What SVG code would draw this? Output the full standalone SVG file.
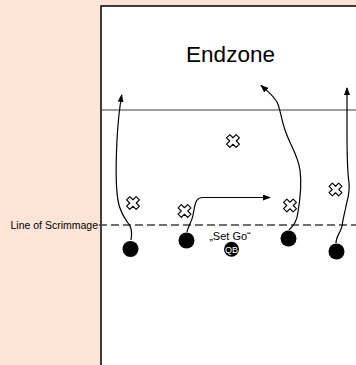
<svg xmlns="http://www.w3.org/2000/svg" width="356" height="365" viewBox="0 0 356 365">
<style>
.route{fill:none;stroke:#000;stroke-width:1.2;marker-end:url(#arr)}
.player{fill:#000}
.def{fill:#fff;stroke:#000;stroke-width:1.1}
.lbl{font-family:"Liberation Sans",Arial,sans-serif;fill:#000}
</style>
<defs>
<marker id="arr" viewBox="0 0 8 6" markerWidth="8" markerHeight="6" refX="7" refY="3" orient="auto" markerUnits="userSpaceOnUse">
<path d="M0,0 L8,3 L0,6 z" fill="#000"/>
</marker>
<polygon id="x" points="-2.3,-6.8 2.3,-6.8 2.3,-2.3 6.8,-2.3 6.8,2.3 2.3,2.3 2.3,6.8 -2.3,6.8 -2.3,2.3 -6.8,2.3 -6.8,-2.3 -2.3,-2.3" transform="rotate(45)" stroke-linejoin="round"/>
</defs>
<rect x="0" y="0" width="356" height="365" fill="#FCE4D6"/>
<g id="field">
<rect x="101" y="6" width="270" height="370" fill="#fff" stroke="#000" stroke-width="1.5"/>
<line x1="101" y1="110" x2="356" y2="110" stroke="#404040" stroke-width="1.2"/>
<line x1="99" y1="225" x2="356" y2="225" stroke="#404040" stroke-width="1.5" stroke-dasharray="8,4"/>
<text class="lbl" x="186" y="62" font-size="22.5" textLength="89">Endzone</text>
<text class="lbl" x="98" y="228.5" font-size="10.5" text-anchor="end">Line of Scrimmage</text>
</g>
<g id="connectors">
<path class="route" d="M131,240 C132,234 132,230 130,226 C127,221 122,216 119,205 C115,190 116,160 117,140 C118,120 120,105 121.7,95"/>
<path class="route" d="M187,232 C188,226 192,222 193,215 C195,205 195,197.5 203,197.5 L270,197.5"/>
<path class="route" d="M289,230 C293,226 297,222 298,212 C300,200 302,185 300,170 C298,155 290,145 285,130 C281,118 280,108 277,102 C272,94 266,90 261,85.5"/>
<path class="route" d="M336,243 C336,236 341,232 342,226 C343,218 345,212 346,206 C348,198 350,192 349,183 C347,170 347,150 347,130 L347,88"/>
</g>
<g id="d1"><use href="#x" class="def" x="133" y="203"/></g>
<g id="d2"><use href="#x" class="def" x="184.5" y="211"/></g>
<g id="d3"><use href="#x" class="def" x="290" y="205.5"/></g>
<g id="d4"><use href="#x" class="def" x="335.5" y="189.5"/></g>
<g id="d5"><use href="#x" class="def" x="233" y="141"/></g>
<g id="p1"><circle class="player" cx="130.5" cy="249" r="8"/></g>
<g id="p2"><circle class="player" cx="186.5" cy="240.5" r="8"/></g>
<g id="p3"><circle class="player" cx="288.5" cy="238.5" r="8"/></g>
<g id="p4"><circle class="player" cx="336.5" cy="251.5" r="8"/></g>
<g id="qb">
<circle class="player" cx="231.5" cy="249.3" r="7.5"/>
<text x="231.5" y="252.5" font-size="9" text-anchor="middle" font-family="Liberation Sans,Arial,sans-serif" fill="#fff">QB</text>
</g>
<text class="lbl" x="230" y="240" font-size="11" text-anchor="middle">„Set Go“</text>
</svg>
